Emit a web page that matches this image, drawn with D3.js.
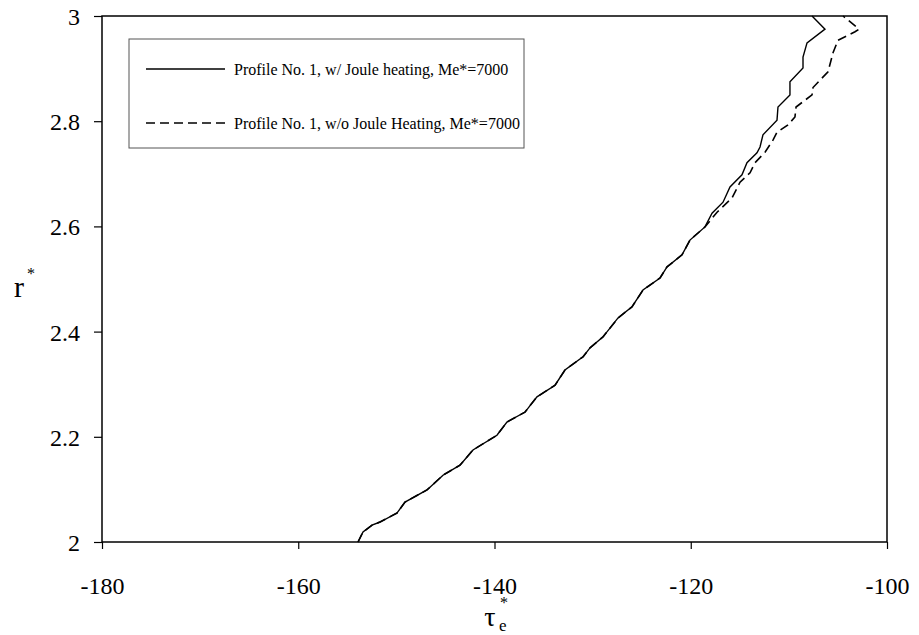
<!DOCTYPE html>
<html><head><meta charset="utf-8">
<script src="https://cdn.jsdelivr.net/npm/d3@7"></script>
<style>body{margin:0;background:#fff}svg{display:block}</style>
</head><body>
<svg id="c" width="919" height="635"></svg>
<script>
const xTicks = [-180, -160, -140, -120, -100];
const yTicks = [2, 2.2, 2.4, 2.6, 2.8, 3];
const yTickLabels = ["2", "2.2", "2.4", "2.6", "2.8", "3"];
const seriesNames = ["Profile No. 1, w/ Joule heating, Me*=7000", "Profile No. 1, w/o Joule Heating, Me*=7000"];

// Series 1: with Joule heating (tau_e*, r*)
const tauJoule = [-153.91,-153.40,-152.48,-151.67,-149.94,-149.12,-146.88,-145.25,-143.52,-142.19,-139.75,-138.73,-136.89,-135.67,-133.83,-132.82,-130.98,-130.27,-128.94,-127.41,-125.99,-124.87,-123.13,-122.42,-120.89,-120.08,-118.55,-117.83,-116.71,-116.00,-114.78,-114.27,-113.25,-112.94,-112.64,-111.21,-111.11,-109.89,-109.89,-108.56,-108.56,-108.15,-106.32,-107.64];
const rJoule   = [2.000,2.019,2.032,2.038,2.055,2.076,2.099,2.127,2.146,2.175,2.203,2.228,2.247,2.276,2.298,2.327,2.352,2.369,2.390,2.426,2.447,2.479,2.502,2.523,2.546,2.574,2.599,2.625,2.646,2.675,2.698,2.721,2.740,2.751,2.774,2.802,2.827,2.850,2.875,2.901,2.922,2.949,2.975,3.000];

// Series 2: without Joule heating
const tauNoJoule = [-153.91,-153.40,-152.48,-151.67,-149.94,-149.12,-146.88,-145.25,-143.52,-142.19,-139.75,-138.73,-136.89,-135.67,-133.83,-132.82,-130.98,-130.27,-128.94,-127.41,-125.99,-124.87,-123.13,-122.42,-120.89,-120.08,-118.55,-117.32,-115.80,-114.98,-113.96,-113.45,-112.43,-111.62,-111.21,-110.09,-109.38,-109.27,-107.64,-107.54,-106.01,-105.50,-104.99,-103.26,-102.85,-104.48];
const rNoJoule   = [2.000,2.019,2.032,2.038,2.055,2.076,2.099,2.127,2.146,2.175,2.203,2.228,2.247,2.276,2.298,2.327,2.352,2.369,2.390,2.426,2.447,2.479,2.502,2.523,2.546,2.574,2.599,2.627,2.654,2.684,2.702,2.721,2.741,2.764,2.779,2.793,2.808,2.827,2.850,2.864,2.894,2.930,2.954,2.970,2.975,3.000];

const FONT = "Liberation Serif";
const svg = d3.select("#c");
const L = 102, R = 887, T = 16, B = 542;
const x = d3.scaleLinear().domain([-180, -100]).range([L, R]);
const y = d3.scaleLinear().domain([2, 3]).range([B, T]);

// frame
svg.append("rect").attr("x", L).attr("y", T).attr("width", R - L).attr("height", B - T)
  .attr("fill", "none").attr("stroke", "#000").attr("stroke-width", 1.5);

const xAxis = svg.append("g").attr("transform", `translate(0,${B})`)
  .call(d3.axisBottom(x).tickValues(xTicks).tickSize(7).tickSizeOuter(0).tickFormat(d => String(d)));
xAxis.attr("font-family", FONT);
xAxis.selectAll(".tick line").attr("stroke-width", 1.2);
xAxis.selectAll("text").attr("font-size", 24).attr("font-family", FONT).attr("fill", "#000").attr("dy", null).attr("y", 52);

const yAxis = svg.append("g").attr("transform", `translate(${L},0)`)
  .call(d3.axisLeft(y).tickValues(yTicks).tickSize(8).tickSizeOuter(0).tickFormat((d, i) => yTickLabels[i]));
yAxis.attr("font-family", FONT);
yAxis.selectAll(".tick line").attr("stroke-width", 1.2);
yAxis.selectAll("text").attr("font-size", 24).attr("font-family", FONT).attr("fill", "#000").attr("x", -22).attr("dy", "0.35em");
xAxis.selectAll("path.domain").remove();
yAxis.selectAll("path.domain").remove();

// lines
const line = d3.line().x(d => x(d[0])).y(d => y(d[1]));
const s1 = tauJoule.map((t, i) => [t, rJoule[i]]);
const s2 = tauNoJoule.map((t, i) => [t, rNoJoule[i]]);
svg.append("path").datum(s2).attr("d", line).attr("fill", "none").attr("stroke", "#000")
  .attr("stroke-width", 1.6).attr("stroke-dasharray", "9,5");
svg.append("path").datum(s1).attr("d", line).attr("fill", "none").attr("stroke", "#000")
  .attr("stroke-width", 1.4);

// axis titles
svg.append("text").attr("x", 490).attr("y", 626).attr("font-size", 28).attr("font-family", FONT).attr("text-anchor", "middle").text("τ");
svg.append("text").attr("x", 499).attr("y", 631).attr("font-size", 17).attr("font-family", FONT).text("e");
svg.append("text").attr("x", 500).attr("y", 608).attr("font-size", 16).attr("font-family", FONT).text("*");

svg.append("text").attr("x", 14).attr("y", 297).attr("font-size", 30).attr("font-family", FONT).text("r");
svg.append("text").attr("x", 27).attr("y", 279).attr("font-size", 16).attr("font-family", FONT).text("*");

// legend
const lg = svg.append("g");
lg.append("rect").attr("x", 129).attr("y", 39).attr("width", 395).attr("height", 109)
  .attr("fill", "#fff").attr("stroke", "#555").attr("stroke-width", 1);
const rows = [69, 123];
const dashes = [null, "9,5"];
seriesNames.forEach((n, i) => {
  lg.append("line").attr("x1", 146).attr("x2", 225).attr("y1", rows[i]).attr("y2", rows[i])
    .attr("stroke", "#000").attr("stroke-width", 1.4).attr("stroke-dasharray", dashes[i]);
  lg.append("text").attr("x", 234).attr("y", rows[i]).attr("dy", "0.35em").attr("font-size", 16).attr("font-family", FONT).text(n);
});
</script>
</body></html>
